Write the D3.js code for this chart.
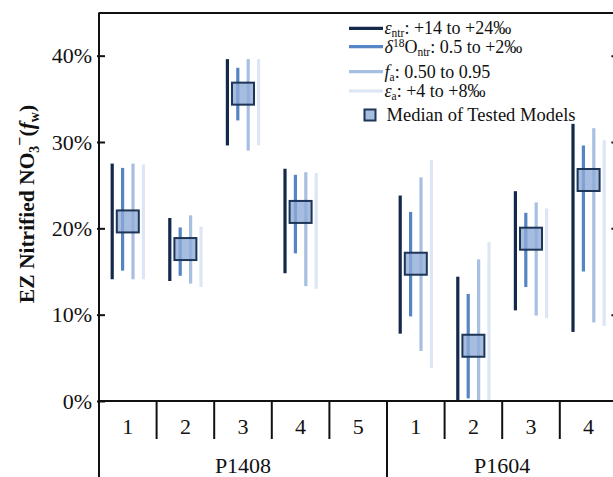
<!DOCTYPE html>
<html>
<head>
<meta charset="utf-8">
<script src="https://cdn.jsdelivr.net/npm/d3@7"></script>
<style>
  html, body { margin: 0; padding: 0; background: #fff; }
  svg { display: block; font-family: "Liberation Serif", "Times New Roman", serif; }
</style>
</head>
<body>
<svg id="chart" width="613" height="477"></svg>
<script>
// Sampling sites and wells (x categories)
const sites = ["P1408", "P1408", "P1408", "P1408", "P1408", "P1604", "P1604", "P1604", "P1604"];
const wells = ["1", "2", "3", "4", "5", "1", "2", "3", "4"];

// Sensitivity ranges of f_w (%) for each tested parameter (low / high), null = no data
const epsNtrLow  = [14.1, 13.9, 29.6, 14.8, null, 7.8, 0.0, 10.5, 8.0];
const epsNtrHigh = [27.5, 21.2, 39.6, 26.9, null, 23.8, 14.4, 24.3, 32.1];
const d18OLow    = [15.1, 14.5, 32.5, 17.1, null, 9.8, 0.3, 13.2, 15.0];
const d18OHigh   = [27.0, 20.1, 38.6, 26.2, null, 21.9, 12.4, 21.8, 29.6];
const faLow      = [14.1, 13.6, 29.0, 13.3, null, 5.8, 0.0, 9.9, 9.1];
const faHigh     = [27.5, 21.5, 39.6, 26.5, null, 25.9, 16.4, 23.0, 31.6];
const epsALow    = [14.1, 13.2, 29.6, 13.0, null, 3.8, 0.0, 9.6, 8.7];
const epsAHigh   = [27.4, 20.2, 39.6, 26.4, null, 27.9, 18.4, 22.3, 30.2];
// Median of tested models (%)
const medianFw   = [20.8, 17.6, 35.6, 21.9, null, 15.9, 6.4, 18.8, 25.6];

// Y axis ticks (%)
const yTicks = [0, 10, 20, 30, 40];

const seriesKeys = ["epsNtr", "d18O", "fa", "epsA"];
const seriesColors = ["#14284b", "#5585c4", "#a7bfe1", "#dce6f4"];
const seriesLow = [epsNtrLow, d18OLow, faLow, epsALow];
const seriesHigh = [epsNtrHigh, d18OHigh, faHigh, epsAHigh];

const svg = d3.select("#chart");
const plotLeft = 99, plotRight = 617.4, plotTop = 12.5, plotBottom = 401;

const ids = wells.map((w, i) => sites[i] + "-" + w);
const x = d3.scaleBand().domain(ids).range([plotLeft, plotRight]);
const xs = d3.scalePoint().domain(seriesKeys).range([-15.6, 15.6]);
const y = d3.scaleLinear().domain([0, 45]).range([plotBottom, plotTop]);

const ink = "#111";

// Range bars
const g = svg.append("g");
seriesKeys.forEach((k, s) => {
  ids.forEach((id, i) => {
    const lo = seriesLow[s][i], hi = seriesHigh[s][i];
    if (lo == null || hi == null) return;
    const cx = x(id) + x.bandwidth() / 2 + xs(k);
    g.append("line")
      .attr("x1", cx).attr("x2", cx)
      .attr("y1", y(lo)).attr("y2", y(hi))
      .attr("stroke", seriesColors[s])
      .attr("stroke-width", 3.2);
  });
});

// Median boxes
const boxSize = 22;
ids.forEach((id, i) => {
  if (medianFw[i] == null) return;
  const cx = x(id) + x.bandwidth() / 2;
  g.append("rect")
    .attr("x", cx - boxSize / 2).attr("y", y(medianFw[i]) - boxSize / 2)
    .attr("width", boxSize).attr("height", boxSize)
    .attr("fill", "#8eaad6").attr("fill-opacity", 0.78)
    .attr("stroke", "#1d3557").attr("stroke-width", 2);
});

// Frame: top border
svg.append("line").attr("x1", plotLeft).attr("x2", 613).attr("y1", plotTop + 0.5).attr("y2", plotTop + 0.5)
  .attr("stroke", ink).attr("stroke-width", 2);

// Left axis
const yAxisL = d3.axisLeft(y).tickValues(yTicks).tickFormat(d => d + "%").tickSize(0).tickPadding(7);
const gl = svg.append("g").attr("transform", `translate(${plotLeft},0)`).call(yAxisL);
gl.select(".domain").remove();
gl.selectAll(".tick text").attr("font-size", 22).attr("font-family", "Liberation Serif").attr("fill", ink);
gl.selectAll(".tick line").remove();
gl.selectAll(".tick").append("line").attr("x1", -2).attr("x2", 6).attr("stroke", ink).attr("stroke-width", 2);
svg.append("line").attr("x1", plotLeft).attr("x2", plotLeft).attr("y1", plotTop).attr("y2", 477)
  .attr("stroke", ink).attr("stroke-width", 2);

// Right axis (inward ticks)
const yAxisR = d3.axisRight(y).tickValues(yTicks.filter(d => d > 0)).tickSize(0).tickFormat("");
const gr = svg.append("g").attr("transform", `translate(${plotRight},0)`).call(yAxisR);
gr.select(".domain").attr("stroke", ink).attr("stroke-width", 2);
gr.selectAll(".tick").append("line").attr("x1", -6).attr("x2", 0).attr("stroke", ink).attr("stroke-width", 2);

// X axis baseline
svg.append("line").attr("x1", plotLeft).attr("x2", 613).attr("y1", plotBottom).attr("y2", plotBottom)
  .attr("stroke", ink).attr("stroke-width", 2);

// Well labels and separators
const xAxis = d3.axisBottom(x).tickFormat((d, i) => wells[i]).tickSize(0).tickPadding(0);
const gx = svg.append("g").attr("transform", `translate(0,${plotBottom})`).call(xAxis);
gx.select(".domain").remove();
gx.selectAll(".tick text").attr("font-size", 22).attr("font-family", "Liberation Serif")
  .attr("fill", ink).attr("dy", null).attr("y", 33);
ids.forEach((id, i) => {
  if (i === 0) return;
  const sx = x(id);
  const groupStart = sites[i] !== sites[i - 1];
  svg.append("line").attr("x1", sx).attr("x2", sx)
    .attr("y1", plotBottom).attr("y2", groupStart ? 477 : 439)
    .attr("stroke", ink).attr("stroke-width", 2);
});

// Site labels centred under their wells
const siteNames = Array.from(new Set(sites));
siteNames.forEach(s => {
  const members = ids.filter((id, i) => sites[i] === s);
  const x0 = x(members[0]), x1 = x(members[members.length - 1]) + x.bandwidth();
  svg.append("text").attr("x", (x0 + x1) / 2).attr("y", 473)
    .attr("text-anchor", "middle").attr("font-size", 22).attr("fill", ink).text(s);
});

// Y axis title
const yt = svg.append("text")
  .attr("transform", "translate(34,204) rotate(-90)")
  .attr("text-anchor", "middle").attr("font-size", 21.5).attr("font-weight", "bold").attr("fill", ink);
yt.append("tspan").text("EZ Nitrified NO");
yt.append("tspan").attr("font-size", 14).attr("dy", 5).text("3");
yt.append("tspan").attr("font-size", 16).attr("dy", -14).text("−");
yt.append("tspan").attr("dy", 9).text("(");
yt.append("tspan").attr("font-style", "italic").text("f");
yt.append("tspan").attr("font-size", 14).attr("dy", 5).text("w");
yt.append("tspan").attr("dy", -5).text(")");

// Legend
const legY = [28.3, 46.7, 71.7, 91];
const lg = svg.append("g").attr("font-size", 18).attr("fill", ink);
const legendParts = [
  [["ε", "i"], ["ntr", "sub"], [": +14 to +24‰", "n"]],
  [["δ", "i"], ["18", "sup"], ["O", "n"], ["ntr", "sub"], [": 0.5 to +2‰", "n"]],
  [["f", "i"], ["a", "sub"], [": 0.50 to 0.95", "n"]],
  [["ε", "i"], ["a", "sub"], [": +4 to +8‰", "n"]]
];
legendParts.forEach((parts, i) => {
  lg.append("line").attr("x1", 349).attr("x2", 383).attr("y1", legY[i]).attr("y2", legY[i])
    .attr("stroke", seriesColors[i]).attr("stroke-width", 3.2);
  const t = lg.append("text").attr("x", 384.5).attr("y", legY[i] + 6);
  let shift = 0;
  parts.forEach(([txt, kind]) => {
    const sp = t.append("tspan").text(txt);
    let target = 0;
    if (kind === "i") sp.attr("font-style", "italic");
    if (kind === "sub") { sp.attr("font-size", 11.5); target = 3; }
    if (kind === "sup") { sp.attr("font-size", 11.5); target = -6; }
    sp.attr("dy", target - shift);
    shift = target;
  });
});
lg.append("rect").attr("x", 364.5).attr("y", 109.5).attr("width", 11).attr("height", 11)
  .attr("fill", "#8eaad6").attr("fill-opacity", 0.78).attr("stroke", "#1d3557").attr("stroke-width", 2);
lg.append("text").attr("x", 386.5).attr("y", 121).attr("font-size", 18.5).text("Median of Tested Models");
</script>
</body>
</html>
